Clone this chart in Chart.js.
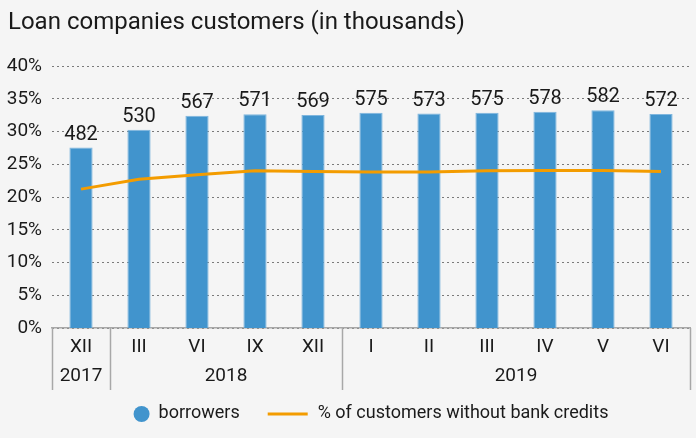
<!DOCTYPE html>
<html>
<head>
<meta charset="utf-8">
<script src="https://cdn.jsdelivr.net/npm/chart.js@4"></script>
<style>
  html, body { margin: 0; padding: 0; background: #f5f5f5; }
  #wrap { width: 696px; height: 438px; position: relative; }
</style>
</head>
<body>
<div id="wrap"><canvas id="loanChart" width="696" height="438"></canvas></div>
<script>
var months = ['XII', 'III', 'VI', 'IX', 'XII', 'I', 'II', 'III', 'IV', 'V', 'VI']
var years = ['2017', '2018', '2019']
var yearSpans = [1, 4, 6]   // how many months fall under each year
var borrowers = [482, 530, 567, 571, 569, 575, 573, 575, 578, 582, 572]
var noBankShare = [21.2, 22.7, 23.4, 24.0, 23.9, 23.8, 23.8, 24.0, 24.05, 24.05, 23.9]
var percentTicks = [0, 5, 10, 15, 20, 25, 30, 35, 40]

var titleText = 'Loan companies customers (in thousands)'
var legendNames = ['borrowers', '% of customers without bank credits']

var FONT = 'Roboto, "DejaVu Sans", sans-serif'
var BLUE = '#4194cd'
var ORANGE = '#f39c00'
var TEXT = '#1a1a1a'
var RULE = '#a8a8a8'

// title, value labels, year row and legend are drawn by hand
var extras = {
    id: 'extras',
    afterDatasetsDraw: function(chart) {
        var ctx = chart.ctx
        var area = chart.chartArea
        ctx.save()

        // title
        ctx.fillStyle = TEXT
        ctx.font = '24px ' + FONT
        ctx.textAlign = 'left'
        ctx.textBaseline = 'alphabetic'
        ctx.fillText(titleText, 8, 29)

        // numbers above the bars
        ctx.font = '20px ' + FONT
        ctx.textAlign = 'center'
        var bars = chart.getDatasetMeta(0).data
        bars.forEach(function(bar, i) {
            ctx.fillText(borrowers[i], bar.x, bar.y - 8)
        })

        // year row with separators
        var step = (area.right - area.left) / months.length
        var bottom = 390
        ctx.strokeStyle = RULE
        ctx.lineWidth = 1.5
        var start = 0
        var edges = [area.left]
        yearSpans.forEach(function(n, k) {
            var x0 = area.left + start * step
            var x1 = area.left + (start + n) * step
            edges.push(x1)
            ctx.font = '19px ' + FONT
            ctx.textBaseline = 'middle'
            ctx.fillText(years[k], (x0 + x1) / 2, 376)
            start += n
        })
        edges.forEach(function(x) {
            x = Math.round(x) + 0.5
            ctx.beginPath()
            ctx.moveTo(x, area.bottom)
            ctx.lineTo(x, bottom)
            ctx.stroke()
        })

        // legend
        ctx.font = '18px ' + FONT
        ctx.textBaseline = 'middle'
        ctx.textAlign = 'left'
        var w1 = ctx.measureText(legendNames[0]).width
        var w2 = ctx.measureText(legendNames[1]).width
        var total = 16 + 9 + w1 + 28 + 40 + 10 + w2
        var lx = (area.left + area.right) / 2 - total / 2
        var ly = 413
        ctx.fillStyle = BLUE
        ctx.beginPath()
        ctx.arc(lx + 8, ly + 1, 8, 0, Math.PI * 2)
        ctx.fill()
        lx += 16 + 9
        ctx.fillStyle = TEXT
        ctx.fillText(legendNames[0], lx, ly)
        lx += w1 + 28
        ctx.strokeStyle = ORANGE
        ctx.lineWidth = 3
        ctx.beginPath()
        ctx.moveTo(lx, ly + 1)
        ctx.lineTo(lx + 40, ly + 1)
        ctx.stroke()
        lx += 40 + 10
        ctx.fillText(legendNames[1], lx, ly)

        ctx.restore()
    }
}

var ctx = document.getElementById('loanChart').getContext('2d')
var chart = new Chart(ctx, {
    data: {
        labels: months,
        datasets: [
            {
                type: 'bar',
                label: legendNames[0],
                data: borrowers,
                yAxisID: 'y1',
                backgroundColor: BLUE,
                borderColor: '#7fb6de',
                borderWidth: 1,
                barPercentage: 0.4,
                categoryPercentage: 1,
                order: 1
            },
            {
                type: 'line',
                label: legendNames[1],
                data: noBankShare,
                yAxisID: 'y',
                borderColor: ORANGE,
                borderWidth: 3,
                pointRadius: 0,
                tension: 0,
                order: 0
            }
        ]
    },
    options: {
        responsive: false,
        animation: false,
        layout: { padding: { top: 66, right: 6, left: 0, bottom: 0 } },
        plugins: {
            legend: { display: false },
            title: { display: false },
            tooltip: { enabled: false }
        },
        scales: {
            x: {
                grid: { display: false, drawTicks: false },
                border: { display: true, color: RULE, width: 1.5 },
                ticks: { color: TEXT, font: { family: FONT, size: 19 }, padding: 8 },
                afterFit: function(s) { s.height = 110 }
            },
            y: {
                min: 0,
                max: 40,
                afterBuildTicks: function(s) { s.ticks = percentTicks.map(function(v) { return { value: v } }) },
                grid: { color: '#7a7a7a', lineWidth: 1, drawTicks: false },
                border: { display: false, dash: [2, 3] },
                ticks: {
                    color: TEXT,
                    font: { family: FONT, size: 19 },
                    padding: 10,
                    callback: function(v) { return v + '%' }
                },
                afterFit: function(s) { s.width = 52 }
            },
            y1: {
                display: false,
                min: 0,
                max: 700
            }
        }
    },
    plugins: [extras]
})
</script>
</body>
</html>
